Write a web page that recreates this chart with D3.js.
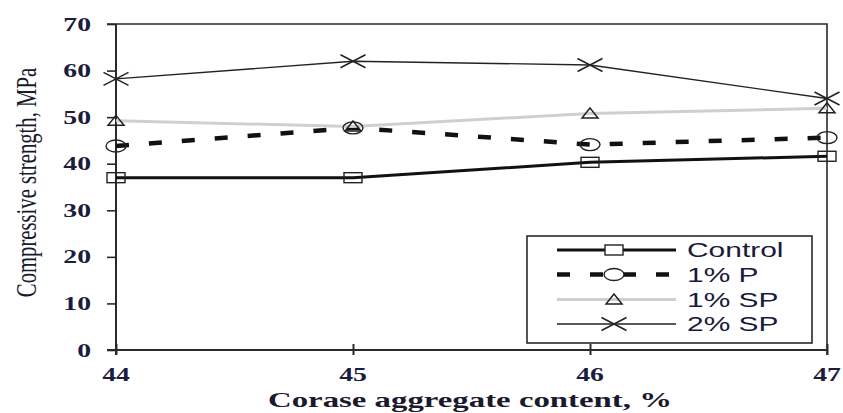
<!DOCTYPE html>
<html>
<head>
<meta charset="utf-8">
<script src="https://cdn.jsdelivr.net/npm/d3@7"></script>
<style>
  html, body { margin: 0; padding: 0; background: #fff; }
  svg { display: block; }
</style>
</head>
<body>
<svg id="chart" width="843" height="413"></svg>
<script>
// Coarse aggregate content (%) on the x axis
const categories = [44, 45, 46, 47];
const xTicks = [44, 45, 46, 47];
const yTicks = [0, 10, 20, 30, 40, 50, 60, 70];

// Compressive strength (MPa) per mix
const controlValues = [37.0, 37.0, 40.3, 41.6];
const p1Values      = [43.8, 47.7, 44.1, 45.6];
const sp1Values     = [49.2, 48.0, 50.8, 51.9];
const sp2Values     = [58.2, 62.0, 61.2, 54.0];

const seriesNames = ["Control", "1% P", "1% SP", "2% SP"];

const xTitle = "Corase aggregate content, %";
const yTitle = "Compressive strength, MPa";

// ---- layout ----
const plotLeft = 116, plotRight = 827, plotTop = 24, plotBottom = 350;
const SX = 1.46; // wide glyph aspect used for every label

const svg = d3.select("#chart");
const x = d3.scaleLinear().domain([44, 47]).range([plotLeft, plotRight]);
const y = d3.scaleLinear().domain([0, 70]).range([plotBottom, plotTop]);

const axisColor = "#2a2a2a";
const textColor = "#1c1c3c";

// frame: top and right edges
svg.append("path")
  .attr("d", `M${plotLeft - 9},${plotTop}H${plotRight}V${plotBottom + 5}`)
  .attr("fill", "none").attr("stroke", axisColor).attr("stroke-width", 1.6);

// y axis
const yAxis = svg.append("g")
  .attr("transform", `translate(${plotLeft},0)`)
  .call(d3.axisLeft(y).tickValues(yTicks).tickSize(9).tickSizeOuter(0).tickFormat(""));
yAxis.select(".domain").attr("stroke", axisColor).attr("stroke-width", 2)
  .attr("d", `M0,${plotTop}V${plotBottom + 5}`);
yAxis.selectAll(".tick line").attr("stroke", axisColor).attr("stroke-width", 1.6);

// x axis (ticks cross the axis line)
const xAxis = svg.append("g")
  .attr("transform", `translate(0,${plotBottom})`)
  .call(d3.axisBottom(x).tickValues(xTicks).tickSize(5).tickSizeOuter(0).tickFormat(""));
xAxis.select(".domain").attr("stroke", axisColor).attr("stroke-width", 1.8)
  .attr("d", `M${plotLeft - 9},0H${plotRight}`);
xAxis.selectAll(".tick line").attr("stroke", axisColor).attr("stroke-width", 2).attr("y1", -6);

// tick labels
svg.append("g").selectAll("text").data(yTicks).join("text")
  .attr("transform", d => `translate(91,${y(d) + 6.5}) scale(${SX},1)`)
  .attr("text-anchor", "end")
  .attr("font-family", "'Liberation Serif', 'Times New Roman', serif")
  .attr("font-weight", "bold").attr("font-size", 19)
  .attr("fill", textColor)
  .text(d => d);

svg.append("g").selectAll("text").data(xTicks).join("text")
  .attr("transform", d => `translate(${x(d)},381) scale(${SX},1)`)
  .attr("text-anchor", "middle")
  .attr("font-family", "'Liberation Serif', 'Times New Roman', serif")
  .attr("font-weight", "bold").attr("font-size", 19)
  .attr("fill", textColor)
  .text(d => d);

// axis titles
svg.append("text")
  .attr("x", 470).attr("y", 406.5)
  .attr("text-anchor", "middle")
  .attr("font-family", "'Liberation Serif', 'Times New Roman', serif")
  .attr("font-weight", "bold").attr("font-size", 21)
  .attr("textLength", 404).attr("lengthAdjust", "spacingAndGlyphs")
  .attr("fill", "#1a1a2e")
  .text(xTitle);

svg.append("text")
  .attr("transform", `translate(36,182.5) scale(${SX},1) rotate(-90)`)
  .attr("text-anchor", "middle")
  .attr("font-family", "'Liberation Serif', 'Times New Roman', serif")
  .attr("font-size", 20.7)
  .attr("fill", "#1a1a2e")
  .text(yTitle);

// ---- marker shapes (wide aspect) ----
const markers = {
  square: g => g.append("rect").attr("x", -9).attr("y", -5).attr("width", 18).attr("height", 10),
  circle: g => g.append("ellipse").attr("rx", 10).attr("ry", 6),
  triangle: g => g.append("path").attr("d", "M0,-5.5L8,4.5L-8,4.5Z"),
  cross: g => g.append("path").attr("d", "M-12.5,-6.5L12.5,6.5M-12.5,6.5L12.5,-6.5")
};

const series = [
  { name: seriesNames[0], values: controlValues, color: "#111", width: 3, dash: null, marker: "square", mw: 1.4 },
  { name: seriesNames[1], values: p1Values, color: "#111", width: 4.5, dash: "13,20", marker: "circle", mw: 1.4 },
  { name: seriesNames[2], values: sp1Values, color: "#cfcfcf", width: 3, dash: null, marker: "triangle", mw: 1.5 },
  { name: seriesNames[3], values: sp2Values, color: "#222", width: 1.3, dash: null, marker: "cross", mw: 1.5 }
];

const line = d3.line().x((d, i) => x(categories[i])).y(d => y(d));

series.forEach(s => {
  svg.append("path")
    .datum(s.values)
    .attr("d", line)
    .attr("fill", "none")
    .attr("stroke", s.color)
    .attr("stroke-width", s.width)
    .attr("stroke-dasharray", s.dash);
});

series.forEach(s => {
  svg.append("g").selectAll("g").data(s.values).join("g")
    .attr("transform", (d, i) => `translate(${x(categories[i])},${y(d)})`)
    .each(function() {
      markers[s.marker](d3.select(this))
        .attr("fill", "none").attr("stroke", "#222").attr("stroke-width", s.mw);
    });
});

// ---- legend ----
const lg = svg.append("g");
lg.append("rect")
  .attr("x", 527).attr("y", 236).attr("width", 285).attr("height", 107)
  .attr("fill", "#fff").attr("stroke", axisColor).attr("stroke-width", 1.6);

const rowY = [250, 274.5, 299.5, 324];
series.forEach((s, i) => {
  const row = lg.append("g").attr("transform", `translate(0,${rowY[i]})`);
  row.append("line")
    .attr("x1", 557).attr("x2", 676)
    .attr("stroke", s.color).attr("stroke-width", s.width)
    .attr("stroke-dasharray", s.dash);
  const m = row.append("g").attr("transform", "translate(614,0)");
  markers[s.marker](m).attr("fill", s.marker === "circle" || s.marker === "square" ? "#fff" : "none")
    .attr("stroke", "#222").attr("stroke-width", s.mw);
  row.append("text")
    .attr("transform", `translate(687,7) scale(${SX},1)`)
    .attr("font-family", "'Liberation Sans', Arial, sans-serif")
    .attr("font-size", 20.5)
    .attr("fill", "#1a1a3a")
    .text(s.name);
});
</script>
</body>
</html>
